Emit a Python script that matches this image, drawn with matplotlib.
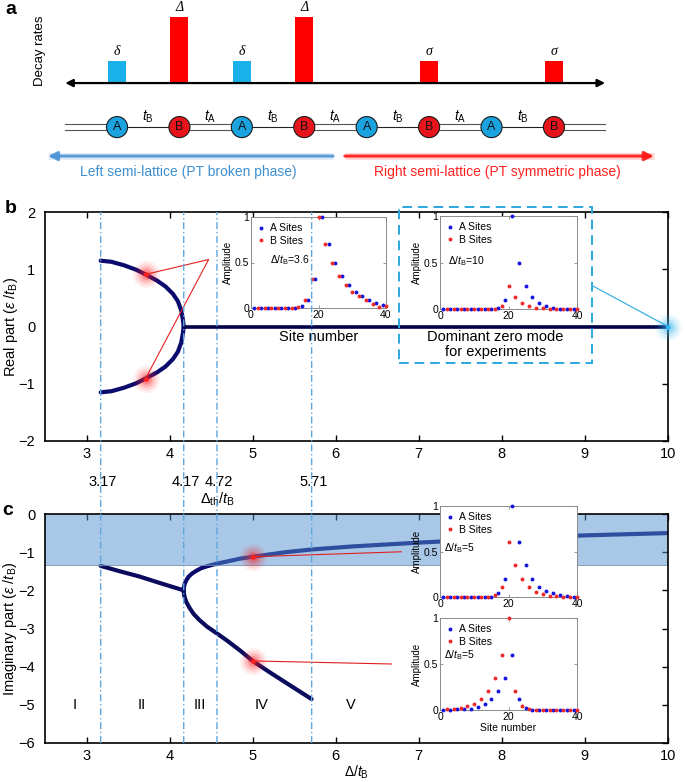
import matplotlib
matplotlib.use('Agg')
import matplotlib.pyplot as plt
import matplotlib.transforms as mtrans
from matplotlib.patches import Rectangle
import numpy as np

plt.rcParams['font.family'] = ['Liberation Sans', 'DejaVu Sans']
plt.rcParams['mathtext.fontset'] = 'custom'
plt.rcParams['mathtext.rm'] = 'Liberation Sans'
plt.rcParams['mathtext.it'] = 'Liberation Sans:italic'
plt.rcParams['mathtext.bf'] = 'Liberation Sans:bold'

# panel a : lattice sketch
site_type = ['A', 'B', 'A', 'B', 'A', 'B', 'A', 'B']
decay_rate = [0.33, 1.0, 0.33, 1.0, 0.0, 0.33, 0.0, 0.33]
decay_name = ['δ', 'Δ', 'δ', 'Δ', '', 'σ', '', 'σ']
hop_name = ['B', 'A', 'B', 'A', 'B', 'A', 'B']

# panel b : real part
re_delta = [3.17, 3.30, 3.45, 3.60, 3.71, 3.85, 3.95, 4.04, 4.10, 4.14, 4.16, 4.17]
re_upper = [1.15, 1.13, 1.07, 0.99, 0.91, 0.80, 0.70, 0.57, 0.44, 0.28, 0.12, 0.0]
re_lower = [-1.15, -1.13, -1.07, -0.99, -0.91, -0.80, -0.70, -0.57, -0.44, -0.28, -0.12, 0.0]
zero_delta = [4.17, 10.0]
zero_re = [0.0, 0.0]

# panel c : imaginary part
im_left_delta = [3.17, 3.40, 3.64, 3.90, 4.17]
im_left = [-1.36, -1.50, -1.64, -1.82, -2.00]
im_up_delta = [4.17, 4.172, 4.18, 4.20, 4.23, 4.27, 4.32, 4.38, 4.45, 4.57, 4.70, 4.85, 5.00,
               5.20, 5.40, 5.71, 6.20, 7.00, 8.00, 9.00, 10.0]
im_up = [-2.00, -1.93, -1.84, -1.74, -1.64, -1.56, -1.49, -1.42, -1.37, -1.30, -1.24, -1.17, -1.12,
         -1.06, -1.00, -0.93, -0.85, -0.75, -0.64, -0.56, -0.50]
im_dn_delta = [4.17, 4.172, 4.18, 4.20, 4.24, 4.29, 4.36, 4.45, 4.57, 4.70, 4.85, 5.00, 5.20,
               5.40, 5.71]
im_dn = [-2.00, -2.07, -2.17, -2.30, -2.46, -2.62, -2.78, -2.95, -3.13, -3.33, -3.58, -3.85,
         -4.14, -4.42, -4.85]
band_low = -1.33

# thresholds and zones
th_pos = [3.17, 4.17, 4.57, 5.71]
th_text = ['3.17', '4.17', '4.72', '5.71']
zone_pos = [2.86, 3.66, 4.36, 5.11, 6.18]
zone_text = ['I', 'II', 'III', 'IV', 'V']

# insets (site amplitudes)
a_site = list(range(1, 40, 2))
b_site = list(range(2, 41, 2))
b1_A = [0, 0, 0, 0, 0, 0, 0, 0.02, 0.09, 0.32, 1.0, 0.70, 0.50, 0.35, 0.25, 0.18, 0.13, 0.09, 0.06, 0.03]
b1_B = [0, 0, 0, 0, 0, 0, 0.01, 0.09, 0.32, 1.0, 0.70, 0.50, 0.35, 0.25, 0.18, 0.13, 0.09, 0.04, 0.01, 0.02]
b2_A = [0, 0, 0, 0, 0, 0, 0, 0, 0.01, 0.10, 1.0, 0.50, 0.25, 0.13, 0.06, 0.03, 0.015, 0.005, 0, 0]
b2_B = [0, 0, 0, 0, 0, 0, 0, 0, 0.03, 0.25, 0.13, 0.06, 0.03, 0.015, 0.01, 0, 0, 0, 0, 0]
c1_A = [0, 0, 0, 0, 0, 0, 0, 0, 0.045, 0.20, 1.0, 0.60, 0.35, 0.20, 0.11, 0.07, 0.04, 0.02, 0.01, 0]
c1_B = [0, 0, 0, 0, 0, 0, 0, 0.02, 0.11, 0.60, 0.35, 0.20, 0.11, 0.06, 0.03, 0.015, 0.01, 0, 0, 0]
c2_A = [0, 0, 0.01, 0.015, 0.015, 0.03, 0.06, 0.12, 0.21, 0.35, 0.60, 0.12, 0.02, 0, 0, 0, 0, 0, 0, 0]
c2_B = [0.01, 0.01, 0.025, 0.045, 0.07, 0.12, 0.21, 0.35, 0.60, 1.0, 0.21, 0.045, 0.01, 0, 0, 0, 0, 0, 0, 0]

W, H = 685, 782
fig = plt.figure(figsize=(W / 100, H / 100), dpi=100)


def box(l, t, r, b):
    return [l / W, 1 - b / H, (r - l) / W, (b - t) / H]


def glow(ax, x, y, color):
    for s, a in [(380, 0.07), (250, 0.11), (140, 0.17), (60, 0.28)]:
        ax.scatter([x], [y], s=s, color=color, alpha=a, lw=0, zorder=6, clip_on=False)
    ax.scatter([x], [y], s=12, color=color, lw=0, zorder=7, clip_on=False)


# ---------------- a
ax_a = fig.add_axes([0, 1 - 190 / H, 1, 190 / H])
ax_a.set_xlim(-1.875, 9.10)
ax_a.set_ylim(-1.62, 1.258)
ax_a.axis('off')
xs = np.arange(len(site_type))
bar_col = ['#1ab0ea' if s == 'A' else '#ff0000' for s in site_type]
ax_a.bar(xs, decay_rate, width=0.29, color=bar_col)
for i, (h, n) in enumerate(zip(decay_rate, decay_name)):
    ax_a.text(i, h + 0.05, n, ha='center', va='bottom', family='Liberation Serif',
              style='italic', fontsize=10)
ax_a.annotate('', xy=(7.82, 0), xytext=(-0.83, 0),
              arrowprops=dict(arrowstyle='<|-|>', color='k', lw=1.6, mutation_scale=11,
                              shrinkA=0, shrinkB=0))
ax_a.text(-1.234, 0.485, 'Decay rates', rotation=90, ha='center', va='center', fontsize=9.5)

yc = -0.667
ends = [-0.83] + list(xs) + [7.82]
for k in range(len(ends) - 1):
    double = k == 0 or k == len(ends) - 2 or hop_name[k - 1] == 'A'
    if double:
        for d in (-0.04, 0.04):
            ax_a.plot([ends[k], ends[k + 1]], [yc + d, yc + d], color='#555555', lw=0.8)
    else:
        ax_a.plot([ends[k], ends[k + 1]], [yc, yc], color='#222222', lw=0.8)
for i, h in enumerate(hop_name):
    ax_a.text(i + 0.5, -0.515, r'$t_{\rm %s}$' % h, ha='center', va='center', fontsize=10)
circ_col = ['#1ba3e0' if s == 'A' else '#e8141b' for s in site_type]
ax_a.scatter(xs, [yc] * len(xs), s=230, c=circ_col, edgecolors='#1a1a1a', linewidths=0.8, zorder=3)
for i, s in enumerate(site_type):
    ax_a.text(i, yc, s, ha='center', va='center', fontsize=9, color='#111111', zorder=4)

for (x0, x1, c) in [(3.46, -1.106, '#4f96d6'), (3.65, 8.60, '#ff1a1a')]:
    ax_a.plot([x0, x1], [-1.106, -1.106], color=c, lw=5, alpha=0.18, solid_capstyle='butt')
    ax_a.annotate('', xy=(x1, -1.106), xytext=(x0, -1.106),
                  arrowprops=dict(arrowstyle='-|>', color=c, lw=2.2, alpha=0.9, mutation_scale=13,
                                  shrinkA=0, shrinkB=0))
ax_a.text(1.14, -1.348, 'Left semi-lattice (PT broken phase)', ha='center', va='center',
          fontsize=10, color='#3d8fd0')
ax_a.text(6.10, -1.348, 'Right semi-lattice (PT symmetric phase)', ha='center', va='center',
          fontsize=10, color='#ff2020')


def frame(ax):
    ax.tick_params(direction='in', top=True, right=True, left=False, length=4, width=1,
                   labelsize=10.5)
    ax.tick_params(axis='x', pad=4)
    ax.tick_params(axis='y', pad=7)
    for sp in ax.spines.values():
        sp.set_linewidth(1.2)
    ax.set_xlim(2.5, 10)
    ax.set_xticks(range(3, 11))


# ---------------- b
ax_b = fig.add_axes(box(45, 212, 668, 441))
frame(ax_b)
ax_b.set_ylim(-2, 2)
ax_b.set_yticks([-2, -1, 0, 1, 2])
ax_b.plot(re_delta, re_upper, color='#0b0b6e', lw=3, solid_capstyle='round')
ax_b.plot(re_delta, re_lower, color='#0b0b6e', lw=3, solid_capstyle='round')
ax_b.plot(zero_delta, zero_re, color='#000048', lw=2.6)
ax_b.set_ylabel(r'Real part ($\varepsilon$ /$t_{\rm B}$)', fontsize=10.5)
ax_b.yaxis.set_label_coords(-0.04, 0.5)
ax_b.plot([3.71, 4.47, 3.71], [0.91, 1.17, -0.91], color='#e82020', lw=0.8, zorder=5)
glow(ax_b, 3.71, 0.91, '#ff2020')
glow(ax_b, 3.71, -0.91, '#ff2020')
glow(ax_b, 10, 0, '#30b8f0')
ax_b.add_patch(Rectangle((6.76, -0.638), 9.085 - 6.76, 2.087 + 0.638, fill=False, ls=(0, (5, 3)),
                         ec='#2aa7de', lw=1.4, clip_on=False, zorder=5))
ax_b.plot([9.085, 10], [0.716, 0], color='#3bb0e0', lw=0.9, clip_on=False, zorder=5)
bt = mtrans.blended_transform_factory(ax_b.transData, ax_b.transAxes)
for p, t in zip(th_pos, th_text):
    ax_b.text(p + 0.02, -0.179, t, transform=bt, ha='center', va='center', fontsize=10.5)
ax_b.text(4.58, -0.255, r'$\mathit{Δ}_{\rm th}/t_{\rm B}$', transform=bt, ha='center',
          va='center', fontsize=10.5)
ax_b.text(7.92, -0.32, 'Dominant zero mode\nfor experiments', ha='center', va='center',
          fontsize=10.5, linespacing=1.1)

# ---------------- c
ax_c = fig.add_axes(box(45, 514, 668, 743))
frame(ax_c)
ax_c.set_ylim(-6, 0)
ax_c.set_yticks(range(-6, 1))
ax_c.plot(im_left_delta, im_left, color='#0b0b5e', lw=3, solid_capstyle='round', zorder=2)
ax_c.plot(im_up_delta, im_up, color='#0b0b6e', lw=3, zorder=2)
ax_c.plot(im_dn_delta, im_dn, color='#0b0b5e', lw=3, solid_capstyle='round', zorder=2)
ax_c.axhspan(band_low, 0, facecolor='#5592d2', alpha=0.5, edgecolor='none', zorder=2.2)
ax_c.axhline(band_low, color='#6f8fb0', lw=0.6, zorder=2.3)
ax_c.plot([5.0, 6.79], [-1.12, -0.99], color='#e02020', lw=0.8, zorder=4)
ax_c.plot([5.0, 6.67], [-3.85, -3.93], color='#e02020', lw=0.8, zorder=4)
glow(ax_c, 5.0, -1.12, '#ff2020')
glow(ax_c, 5.0, -3.85, '#ff2020')
for p, t in zip(zone_pos, zone_text):
    ax_c.text(p, -5, t, ha='center', va='center', fontsize=10.5)
ax_c.set_ylabel(r'Imaginary part ($\varepsilon$ /$t_{\rm B}$)', fontsize=10.5)
ax_c.yaxis.set_label_coords(-0.042, 0.5)
ax_c.set_xlabel(r'$\mathit{Δ}/t_{\rm B}$', fontsize=10, labelpad=1)


# ---------------- insets
def inset(rect, amp_a, amp_b, tag, tx, ty, xlab=None, xlab_size=7.5, xlab_pad=1):
    ax = fig.add_axes(box(*rect))
    ax.plot(a_site, amp_a, 'o', ms=2.8, color='#1414e0', mec='none', label='A Sites',
            clip_on=False, zorder=3)
    ax.plot(b_site, amp_b, 'o', ms=2.8, color='#f02828', mec='none', label='B Sites',
            clip_on=False, zorder=3)
    ax.set_xlim(0, 40)
    ax.set_ylim(0, 1)
    ax.set_xticks([0, 20, 40])
    ax.set_yticks([0, 0.5, 1])
    ax.set_yticklabels(['0', '0.5', '1'])
    ax.tick_params(direction='in', top=True, right=True, length=2, width=0.6, color='#888888',
                   labelsize=7.5, pad=1.5)
    for sp in ax.spines.values():
        sp.set_linewidth(0.7)
        sp.set_color('#8a8a8a')
    ax.set_ylabel('Amplitude', fontsize=7, labelpad=1)
    ax.legend(loc='upper left', frameon=False, fontsize=7.5, handlelength=0.8, handletextpad=0.4,
              borderpad=0.3, labelspacing=0.25, borderaxespad=0.3)
    ax.text(tx, ty, r'$\mathit{Δ}/t_{\rm B}$=' + tag, transform=ax.transAxes, fontsize=7.5,
            va='center')
    if xlab:
        ax.set_xlabel(xlab, fontsize=xlab_size, labelpad=xlab_pad)
    return ax


inset((251, 217, 386, 308), b1_A, b1_B, '3.6', 0.14, 0.53, 'Site number', 10.5, 7)
inset((440, 216, 577, 309), b2_A, b2_B, '10', 0.06, 0.52)
inset((440, 506, 577, 597), c1_A, c1_B, '5', 0.03, 0.54)
inset((440, 618, 577, 710), c2_A, c2_B, '5', 0.03, 0.60, 'Site number')

# threshold lines across b and c
ax_v = fig.add_axes(box(45, 212, 668, 743))
ax_v.set_xlim(2.5, 10)
ax_v.set_ylim(0, 1)
ax_v.axis('off')
ax_v.patch.set_alpha(0)
for p in th_pos:
    ax_v.axvline(p, color='#5ea6de', lw=1.0, ls=(0, (5, 2, 1, 2)), snap=False)

fig.text(5 / W, 1 - 1 / H, 'a', fontsize=14, weight='bold', va='top')
fig.text(5 / W, 1 - 213 / H, 'b', fontsize=14, weight='bold')
fig.text(2 / W, 1 - 515 / H, 'c', fontsize=14, weight='bold')

fig.savefig('out.png', dpi=100)
